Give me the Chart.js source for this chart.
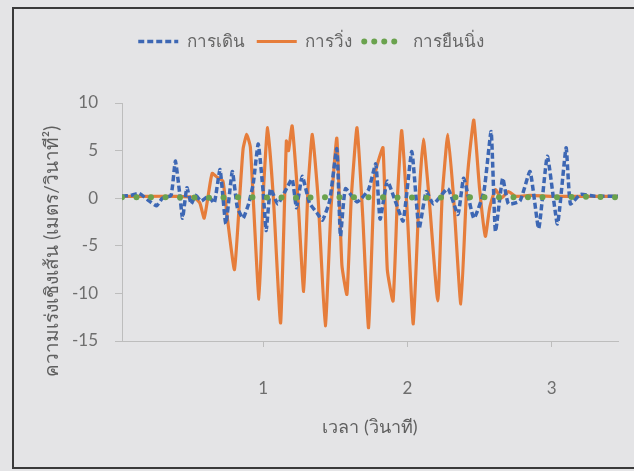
<!DOCTYPE html>
<html>
<head>
<meta charset="utf-8">
<script src="https://cdn.jsdelivr.net/npm/chart.js@4.4.0/dist/chart.umd.min.js"></script>
<style>
    html, body { margin: 0; padding: 0; background: #e4e4e6; }
    #wrap { width: 634px; height: 471px; }
</style>
</head>
<body>
<div id="wrap"><canvas id="myChart" width="634" height="471"></canvas></div>
<script>
// เวลา (วินาที) และค่าความเร่งของแต่ละท่าทาง
let seriesNames = ['การเดิน', 'การวิ่ง', 'การยืนนิ่ง']

let walkTime = [0.02, 0.08, 0.14, 0.20, 0.26, 0.30, 0.36, 0.39, 0.42, 0.44, 0.47, 0.50, 0.53, 0.57, 0.62, 0.66,
    0.70, 0.74, 0.785, 0.82, 0.86, 0.90, 0.93, 0.965, 1.00, 1.02, 1.05, 1.10, 1.15, 1.20, 1.23, 1.27, 1.32,
    1.37, 1.41, 1.46, 1.51, 1.535, 1.57, 1.65, 1.73, 1.78, 1.81, 1.86, 1.92, 1.97, 2.03, 2.08, 2.13, 2.18,
    2.28, 2.35, 2.39, 2.46, 2.53, 2.58, 2.61, 2.66, 2.70, 2.78, 2.85, 2.91, 2.97, 3.04, 3.10, 3.13, 3.20,
    3.30, 3.46]
let walkAccel = [0.2, 0.3, 0.5, -0.2, -0.8, 0.0, 0.3, 3.9, 0.5, -2.1, 1.1, -0.6, 0.3, -0.3, 0.2, -0.5,
    3.0, -2.7, 2.8, -1.0, -2.1, -0.5, 1.5, 5.7, 0.5, -3.4, 1.0, -0.6, 0.7, 2.0, -1.0, 2.3, -0.5,
    -1.5, -2.3, -0.3, 5.2, -4.0, 1.0, -0.4, 0.9, 3.6, -2.2, 1.8, -0.5, -2.4, 4.9, -3.2, 0.7, -0.6,
    1.0, -1.7, 2.1, -2.1, 0.7, 7.0, -3.5, 2.1, -0.6, -0.3, 2.8, -3.2, 4.4, -2.7, 5.3, -0.6, 0.4,
    0.2, 0.2]

let runTime = [0.02, 0.20, 0.40, 0.52, 0.56, 0.59, 0.62, 0.645, 0.68, 0.72, 0.75, 0.80, 0.84, 0.86, 0.885,
    0.91, 0.93, 0.97, 1.00, 1.03, 1.07, 1.12, 1.16, 1.175, 1.20, 1.24, 1.28, 1.31, 1.34, 1.38, 1.43, 1.47,
    1.51, 1.545, 1.58, 1.61, 1.65, 1.69, 1.73, 1.77, 1.79, 1.83, 1.86, 1.90, 1.93, 1.96, 2.00, 2.04, 2.08,
    2.11, 2.15, 2.21, 2.24, 2.28, 2.32, 2.37, 2.41, 2.43, 2.46, 2.50, 2.54, 2.57, 2.61, 2.65, 2.70, 2.75,
    2.85, 3.00, 3.20, 3.46]
let runAccel = [0.2, 0.2, 0.2, 0.1, -0.5, -2.1, 0.5, 2.6, 2.2, 1.8, -2.0, -7.5, 1.0, 5.2, 6.7,
    5.4, 0.0, -10.6, 0.5, 7.4, 0.0, -13.1, 6.0, 5.0, 7.6, 0.0, -9.8, 1.0, 6.7, 0.0, -13.4, -1.0,
    6.3, -7.0, -10.1, 0.0, 7.4, -2.0, -13.6, 2.0, 3.5, 5.3, -7.5, -10.8, 0.0, 7.1, -2.0, -13.2, 0.0,
    6.2, 0.0, -10.8, 0.0, 6.7, 0.0, -11.1, 1.0, 4.6, 8.2, 1.0, -4.0, -1.0, 0.9, 0.0, 0.7, 0.2,
    0.3, 0.2, 0.2, 0.2]

let standTime = [0.02, 0.3, 0.6, 0.9, 1.2, 1.5, 1.8, 2.1, 2.4, 2.7, 3.0, 3.3, 3.46]
let standAccel = [0.1, 0.1, 0.05, 0.1, 0.05, 0.1, 0.1, 0.05, 0.1, 0.1, 0.1, 0.15, 0.1]

let xTicks = [1, 2, 3]
let yTicks = [-15, -10, -5, 0, 5, 10]

function pares(tempos, valores) {
    let pontos = []
    for (let i = 0; i < tempos.length; i++) {
        pontos.push({ x: tempos[i], y: valores[i] })
    }
    return pontos
}

const fundo = {
    id: 'fundo',
    beforeInit(chart) {
        // legenda mais alta para empurrar a área do gráfico para baixo
        const fitOriginal = chart.legend.fit
        chart.legend.fit = function () {
            fitOriginal.call(this)
            this.height = 82
        }
    },
    beforeDraw(chart) {
        const c = chart.ctx
        c.save()
        c.fillStyle = '#e4e4e6'
        c.fillRect(0, 0, chart.width, chart.height)
        c.strokeStyle = '#3a3a3a'
        c.lineWidth = 2
        c.beginPath()
        c.moveTo(chart.width, 8)
        c.lineTo(13, 8)
        c.lineTo(13, 468)
        c.lineTo(chart.width, 468)
        c.stroke()
        c.restore()
    }
}

const fonte = "Lato, 'Noto Sans', 'DejaVu Sans', sans-serif"
const ctx = document.getElementById('myChart')

new Chart(ctx, {
    type: 'scatter',
    data: {
        datasets: [{
            label: seriesNames[0],
            data: pares(walkTime, walkAccel),
            showLine: true,
            borderColor: '#3d67b4',
            backgroundColor: '#3d67b4',
            borderWidth: 3.5,
            borderDash: [6, 3],
            tension: 0.15,
            pointRadius: 0,
            order: 1
        }, {
            label: seriesNames[1],
            data: pares(runTime, runAccel),
            showLine: true,
            borderColor: '#e67d3b',
            backgroundColor: '#e67d3b',
            borderWidth: 3.2,
            tension: 0.15,
            pointRadius: 0,
            order: 2
        }, {
            label: seriesNames[2],
            data: pares(standTime, standAccel),
            showLine: true,
            borderColor: '#6aa24e',
            backgroundColor: '#6aa24e',
            borderWidth: 6,
            borderDash: [0, 14.5],
            borderCapStyle: 'round',
            pointRadius: 0,
            order: 0
        }]
    },
    options: {
        responsive: false,
        animation: false,
        layout: { padding: { left: 4, right: 16, top: 21, bottom: 33 } },
        scales: {
            x: {
                type: 'linear',
                min: 0.02,
                max: 3.46,
                afterBuildTicks: (s) => { s.ticks = xTicks.map(v => ({ value: v })) },
                afterFit: (s) => { s.height = 97 },
                ticks: { padding: 31, color: '#6e6e6e', font: { family: fonte, size: 17 } },
                grid: { drawOnChartArea: false, tickLength: 6, color: '#bdbdbd' },
                border: { color: '#bdbdbd' },
                title: {
                    display: true,
                    text: 'เวลา (วินาที)',
                    color: '#5f5f5f',
                    font: { family: fonte, size: 18 },
                    padding: { top: 18, bottom: 0 }
                }
            },
            y: {
                min: -15,
                max: 10,
                afterBuildTicks: (s) => { s.ticks = yTicks.map(v => ({ value: v })) },
                afterFit: (s) => { s.width = 118 },
                ticks: { padding: 17, color: '#6e6e6e', font: { family: fonte, size: 17 } },
                grid: { drawOnChartArea: false, tickLength: 7, color: '#bdbdbd' },
                border: { color: '#bdbdbd' },
                title: {
                    display: true,
                    text: 'ความเร่งเชิงเส้น (เมตร/วินาที²)            ',
                    color: '#5f5f5f',
                    font: { family: fonte, size: 19 },
                    padding: { top: 36, bottom: 0 }
                }
            }
        },
        plugins: {
            legend: {
                position: 'top',
                labels: {
                    usePointStyle: true,
                    pointStyleWidth: 40,
                    boxHeight: 10,
                    padding: 12,
                    color: '#666666',
                    font: { family: fonte, size: 17 },
                    generateLabels: (chart) => chart.data.datasets.map((ds, i) => ({
                        text: ds.label,
                        fillStyle: ds.borderColor,
                        strokeStyle: ds.borderColor,
                        fontColor: '#666666',
                        lineWidth: ds.borderWidth,
                        lineDash: i === 2 ? [0, 10] : (ds.borderDash || []),
                        lineCap: ds.borderCapStyle || 'butt',
                        pointStyle: 'line',
                        hidden: false,
                        datasetIndex: i
                    }))
                }
            },
            tooltip: { enabled: false }
        }
    },
    plugins: [fundo]
});
</script>
</body>
</html>
